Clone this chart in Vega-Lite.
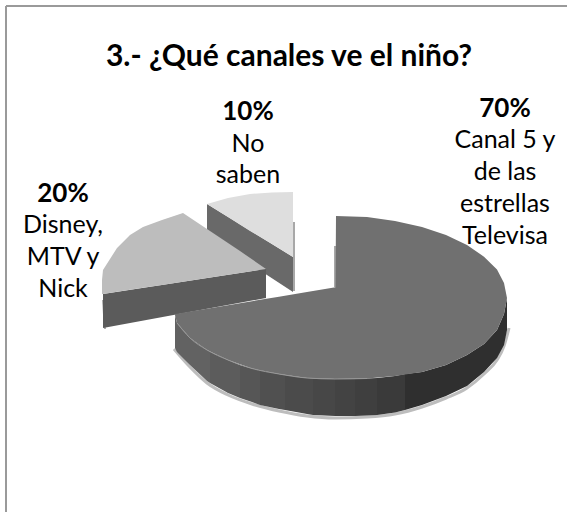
{
  "$schema": "https://vega.github.io/schema/vega-lite/v6.json",
  "width": 567,
  "height": 512,
  "padding": 0,
  "background": "white",
  "view": {"stroke": null},
  "resolve": {"scale": {"color": "independent"}},
  "datasets": {
    "bordes": [
      {"trazo": "marco", "x": 6, "y": 6, "x2": 567, "y2": 6},
      {"trazo": "marco", "x": 6, "y": 6, "x2": 6, "y2": 512},
      {"trazo": "sombra", "x": 294, "y": 222, "x2": 294, "y2": 291},
      {"trazo": "sombra", "x": 335, "y": 246, "x2": 335, "y2": 287},
      {"trazo": "sombra", "x": 103, "y": 300, "x2": 105, "y2": 329}
    ],
    "contorno": [
      {"x": 174, "y": 349}, {"x": 190, "y": 367}, {"x": 207, "y": 383}, {"x": 228, "y": 395},
      {"x": 252, "y": 404}, {"x": 279, "y": 411}, {"x": 307, "y": 416}, {"x": 335, "y": 418},
      {"x": 367, "y": 417}, {"x": 395, "y": 414}, {"x": 422, "y": 407}, {"x": 446, "y": 398},
      {"x": 467, "y": 388}, {"x": 484, "y": 374}, {"x": 497, "y": 360}, {"x": 504, "y": 346},
      {"x": 509, "y": 328}
    ],
    "piezas": [
      {"pieza": "nosaben_lado", "x": 207, "y": 204, "y2": 236},
      {"pieza": "nosaben_lado", "x": 293, "y": 257, "y2": 292},
      {"pieza": "nosaben_tapa", "x": 207, "y": 204, "y2": 204},
      {"pieza": "nosaben_tapa", "x": 228, "y": 198, "y2": 217},
      {"pieza": "nosaben_tapa", "x": 250, "y": 194, "y2": 231},
      {"pieza": "nosaben_tapa", "x": 272, "y": 192.5, "y2": 244},
      {"pieza": "nosaben_tapa", "x": 293, "y": 192, "y2": 257},

      {"pieza": "disney_lado", "x": 103, "y": 294, "y2": 328},
      {"pieza": "disney_lado", "x": 266, "y": 269, "y2": 298},
      {"pieza": "disney_tapa", "x": 102, "y": 280, "y2": 294},
      {"pieza": "disney_tapa", "x": 103, "y": 270, "y2": 294},
      {"pieza": "disney_tapa", "x": 117, "y": 248, "y2": 291.8},
      {"pieza": "disney_tapa", "x": 130, "y": 235, "y2": 289.7},
      {"pieza": "disney_tapa", "x": 143, "y": 227, "y2": 287.7},
      {"pieza": "disney_tapa", "x": 162, "y": 220, "y2": 284.9},
      {"pieza": "disney_tapa", "x": 183, "y": 213, "y2": 281.7},
      {"pieza": "disney_tapa", "x": 207, "y": 229, "y2": 278},
      {"pieza": "disney_tapa", "x": 240, "y": 251, "y2": 273},
      {"pieza": "disney_tapa", "x": 266, "y": 269, "y2": 269},

      {"pieza": "b01", "x": 175, "y": 315, "y2": 348},
      {"pieza": "b01", "x": 177, "y": 323, "y2": 352},
      {"pieza": "b01", "x": 190, "y": 338, "y2": 365},
      {"pieza": "b01", "x": 207, "y": 350, "y2": 381},
      {"pieza": "b01", "x": 210, "y": 351.5, "y2": 383},
      {"pieza": "b02", "x": 210, "y": 351.5, "y2": 383},
      {"pieza": "b02", "x": 228, "y": 360, "y2": 393},
      {"pieza": "b02", "x": 240, "y": 365, "y2": 398},
      {"pieza": "b03", "x": 240, "y": 365, "y2": 398},
      {"pieza": "b03", "x": 252, "y": 368.5, "y2": 402},
      {"pieza": "b03", "x": 260, "y": 370, "y2": 405},
      {"pieza": "b04", "x": 260, "y": 370, "y2": 405},
      {"pieza": "b04", "x": 279, "y": 374, "y2": 409},
      {"pieza": "b04", "x": 285, "y": 375, "y2": 410},
      {"pieza": "b05", "x": 285, "y": 375, "y2": 410},
      {"pieza": "b05", "x": 307, "y": 378, "y2": 414},
      {"pieza": "b05", "x": 313, "y": 378.3, "y2": 415},
      {"pieza": "b06", "x": 313, "y": 378.3, "y2": 415},
      {"pieza": "b06", "x": 335, "y": 379, "y2": 416},
      {"pieza": "b07", "x": 335, "y": 379, "y2": 416},
      {"pieza": "b07", "x": 355, "y": 378.8, "y2": 416},
      {"pieza": "b08", "x": 355, "y": 378.8, "y2": 416},
      {"pieza": "b08", "x": 367, "y": 378.5, "y2": 415.5},
      {"pieza": "b08", "x": 377, "y": 378, "y2": 415},
      {"pieza": "b09", "x": 377, "y": 378, "y2": 415},
      {"pieza": "b09", "x": 395, "y": 376, "y2": 412.5},
      {"pieza": "b09", "x": 405, "y": 374, "y2": 410},
      {"pieza": "b10", "x": 405, "y": 374, "y2": 410},
      {"pieza": "b10", "x": 422, "y": 372, "y2": 405},
      {"pieza": "b10", "x": 446, "y": 365, "y2": 396},
      {"pieza": "b10", "x": 467, "y": 355, "y2": 386},
      {"pieza": "b10", "x": 484, "y": 344, "y2": 372},
      {"pieza": "b10", "x": 497, "y": 330, "y2": 358},
      {"pieza": "b10", "x": 504, "y": 314, "y2": 345},
      {"pieza": "b10", "x": 507, "y": 298, "y2": 330},

      {"pieza": "canal5_tapa", "x": 175, "y": 314, "y2": 315},
      {"pieza": "canal5_tapa", "x": 177, "y": 313.7, "y2": 323},
      {"pieza": "canal5_tapa", "x": 190, "y": 311.5, "y2": 338},
      {"pieza": "canal5_tapa", "x": 207, "y": 308.7, "y2": 350},
      {"pieza": "canal5_tapa", "x": 228, "y": 305.2, "y2": 360},
      {"pieza": "canal5_tapa", "x": 252, "y": 301.2, "y2": 368.5},
      {"pieza": "canal5_tapa", "x": 279, "y": 296.7, "y2": 374},
      {"pieza": "canal5_tapa", "x": 307, "y": 292, "y2": 378},
      {"pieza": "canal5_tapa", "x": 335.5, "y": 287.3, "y2": 379},
      {"pieza": "canal5_tapa", "x": 336, "y": 216, "y2": 379},
      {"pieza": "canal5_tapa", "x": 367, "y": 217, "y2": 378.5},
      {"pieza": "canal5_tapa", "x": 395, "y": 221, "y2": 376},
      {"pieza": "canal5_tapa", "x": 422, "y": 227, "y2": 372},
      {"pieza": "canal5_tapa", "x": 446, "y": 235, "y2": 365},
      {"pieza": "canal5_tapa", "x": 467, "y": 245, "y2": 355},
      {"pieza": "canal5_tapa", "x": 484, "y": 256.7, "y2": 344},
      {"pieza": "canal5_tapa", "x": 497, "y": 269.6, "y2": 330},
      {"pieza": "canal5_tapa", "x": 504, "y": 283, "y2": 314},
      {"pieza": "canal5_tapa", "x": 507, "y": 298, "y2": 298}
    ],
    "biselado": [
      {"x": 177, "y": 323}, {"x": 190, "y": 338}, {"x": 207, "y": 350}, {"x": 228, "y": 360},
      {"x": 252, "y": 368.5}, {"x": 279, "y": 374}, {"x": 307, "y": 378}, {"x": 335, "y": 379},
      {"x": 367, "y": 378.5}
    ],
    "porcentajes": [
      {"categoria": "Canal 5 y de las estrellas Televisa", "parte": 0.7, "x": 505, "y": 117},
      {"categoria": "No saben", "parte": 0.1, "x": 248, "y": 120},
      {"categoria": "Disney, MTV y Nick", "parte": 0.2, "x": 63, "y": 202}
    ],
    "rotulos": [
      {"texto": "Canal 5 y", "x": 505, "y": 148},
      {"texto": "de las", "x": 505, "y": 180},
      {"texto": "estrellas", "x": 505, "y": 212},
      {"texto": "Televisa", "x": 505, "y": 244},
      {"texto": "No", "x": 248, "y": 152},
      {"texto": "saben", "x": 248, "y": 183},
      {"texto": "Disney,", "x": 63, "y": 233},
      {"texto": "MTV y", "x": 63, "y": 265},
      {"texto": "Nick", "x": 63, "y": 297}
    ],
    "titulo": [
      {"texto": "3.- ¿Qué canales ve el niño?", "x": 289, "y": 66}
    ]
  },
  "layer": [
    {
      "data": {"name": "bordes"},
      "mark": {"type": "rule", "strokeWidth": 2},
      "encoding": {
        "x": {"field": "x", "type": "quantitative", "scale": {"domain": [0, 567], "nice": false, "zero": false}, "axis": null},
        "y": {"field": "y", "type": "quantitative", "scale": {"domain": [512, 0], "nice": false, "zero": false}, "axis": null},
        "x2": {"field": "x2"},
        "y2": {"field": "y2"},
        "color": {"field": "trazo", "type": "nominal", "legend": null, "scale": {"domain": ["marco", "sombra"], "range": ["#9a9a9a", "#a8a8a8"]}}
      }
    },
    {
      "data": {"name": "contorno"},
      "mark": {"type": "line", "color": "#bdbdbd", "strokeWidth": 3, "interpolate": "monotone"},
      "encoding": {
        "x": {"field": "x", "type": "quantitative", "axis": null},
        "y": {"field": "y", "type": "quantitative", "axis": null}
      }
    },
    {
      "data": {"name": "piezas"},
      "mark": {"type": "area", "interpolate": "linear", "opacity": 1, "line": false},
      "encoding": {
        "x": {"field": "x", "type": "quantitative", "axis": null},
        "y": {"field": "y", "type": "quantitative", "axis": null},
        "y2": {"field": "y2"},
        "color": {
          "field": "pieza",
          "type": "nominal",
          "legend": null,
          "sort": null,
          "scale": {
            "domain": ["nosaben_lado", "nosaben_tapa", "disney_lado", "disney_tapa", "b01", "b02", "b03", "b04", "b05", "b06", "b07", "b08", "b09", "b10", "canal5_tapa"],
            "range": ["#696969", "#dedede", "#5b5b5b", "#bdbdbd", "#626262", "#5c5c5c", "#565656", "#505050", "#4b4b4b", "#474747", "#434343", "#3f3f3f", "#3a3a3a", "#2f2f2f", "#707070"]
          }
        }
      }
    },
    {
      "data": {"name": "biselado"},
      "mark": {"type": "line", "color": "#979797", "strokeWidth": 1, "interpolate": "monotone"},
      "encoding": {
        "x": {"field": "x", "type": "quantitative", "axis": null},
        "y": {"field": "y", "type": "quantitative", "axis": null}
      }
    },
    {
      "data": {"name": "rotulos"},
      "mark": {"type": "text", "font": "Lato", "fontSize": 25, "align": "center", "baseline": "alphabetic", "color": "#000000"},
      "encoding": {
        "x": {"field": "x", "type": "quantitative", "axis": null},
        "y": {"field": "y", "type": "quantitative", "axis": null},
        "text": {"field": "texto", "type": "nominal"}
      }
    },
    {
      "data": {"name": "porcentajes"},
      "mark": {"type": "text", "font": "Lato", "fontSize": 26, "fontWeight": "bold", "align": "center", "baseline": "alphabetic", "color": "#000000"},
      "encoding": {
        "x": {"field": "x", "type": "quantitative", "axis": null},
        "y": {"field": "y", "type": "quantitative", "axis": null},
        "text": {"field": "parte", "type": "quantitative", "format": ".0%"}
      }
    },
    {
      "data": {"name": "titulo"},
      "mark": {"type": "text", "font": "Lato", "fontSize": 30, "fontWeight": "bold", "align": "center", "baseline": "alphabetic", "color": "#000000"},
      "encoding": {
        "x": {"field": "x", "type": "quantitative", "axis": null},
        "y": {"field": "y", "type": "quantitative", "axis": null},
        "text": {"field": "texto", "type": "nominal"}
      }
    }
  ]
}
